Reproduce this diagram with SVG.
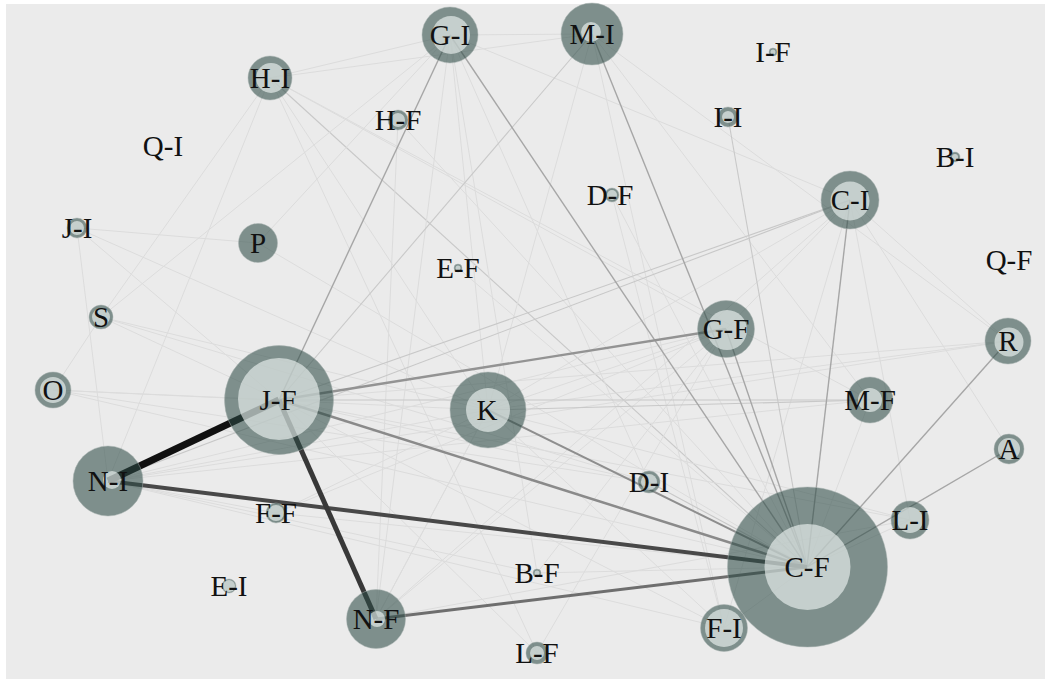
<svg xmlns="http://www.w3.org/2000/svg" width="1045" height="679" viewBox="0 0 1045 679">
<style>
.bg{fill:#ebebeb}
.e0{stroke:#dcdcdc;stroke-width:1;fill:none}
.e1{stroke:#c8c8c8;stroke-width:1.1;fill:none}
.e2{stroke:#a6a6a6;stroke-width:1.4;fill:none}
.o{fill:rgb(44,74,69);fill-opacity:0.57;stroke:#a7b1af;stroke-width:0.8;stroke-opacity:0.6}
.i{fill:rgb(245,250,248);fill-opacity:0.6}
text{font-family:"Liberation Serif","Times New Roman",serif;font-size:29px;fill:#111;text-anchor:middle}
</style>
<rect x="0" y="0" width="1045" height="679" fill="#ffffff"/>
<rect class="bg" x="6" y="4" width="1039" height="675"/>
<g id="connectors">
<line class="e0" x1="270" y1="78" x2="450" y2="35"/>
<line class="e0" x1="270" y1="78" x2="592" y2="34"/>
<line class="e0" x1="450" y1="35" x2="592" y2="34"/>
<line class="e0" x1="270" y1="78" x2="101" y2="317"/>
<line class="e0" x1="270" y1="78" x2="108" y2="481"/>
<line class="e0" x1="270" y1="78" x2="726" y2="329"/>
<line class="e0" x1="270" y1="78" x2="537" y2="653"/>
<line class="e0" x1="270" y1="78" x2="488" y2="410"/>
<line class="e0" x1="270" y1="78" x2="870" y2="400"/>
<line class="e1" x1="270" y1="78" x2="807" y2="567"/>
<line class="e0" x1="450" y1="35" x2="376" y2="619"/>
<line class="e0" x1="450" y1="35" x2="488" y2="410"/>
<line class="e0" x1="450" y1="35" x2="537" y2="573"/>
<line class="e0" x1="450" y1="35" x2="649" y2="482"/>
<line class="e0" x1="450" y1="35" x2="850" y2="200"/>
<line class="e0" x1="450" y1="35" x2="101" y2="317"/>
<line class="e0" x1="592" y1="34" x2="488" y2="410"/>
<line class="e0" x1="592" y1="34" x2="870" y2="400"/>
<line class="e0" x1="592" y1="34" x2="724" y2="628"/>
<line class="e0" x1="592" y1="34" x2="1008" y2="341"/>
<line class="e0" x1="77" y1="228" x2="108" y2="481"/>
<line class="e0" x1="77" y1="228" x2="279" y2="400"/>
<line class="e0" x1="77" y1="228" x2="488" y2="410"/>
<line class="e0" x1="101" y1="317" x2="53" y2="390"/>
<line class="e0" x1="101" y1="317" x2="488" y2="410"/>
<line class="e0" x1="101" y1="317" x2="649" y2="482"/>
<line class="e0" x1="101" y1="317" x2="279" y2="400"/>
<line class="e0" x1="53" y1="390" x2="488" y2="410"/>
<line class="e0" x1="53" y1="390" x2="649" y2="482"/>
<line class="e0" x1="53" y1="390" x2="807" y2="567"/>
<line class="e0" x1="53" y1="390" x2="279" y2="400"/>
<line class="e0" x1="258" y1="243" x2="450" y2="35"/>
<line class="e0" x1="258" y1="243" x2="807" y2="567"/>
<line class="e0" x1="258" y1="243" x2="77" y2="228"/>
<line class="e0" x1="108" y1="481" x2="726" y2="329"/>
<line class="e0" x1="108" y1="481" x2="488" y2="410"/>
<line class="e0" x1="108" y1="481" x2="276" y2="513"/>
<line class="e0" x1="108" y1="481" x2="537" y2="573"/>
<line class="e0" x1="108" y1="481" x2="724" y2="628"/>
<line class="e0" x1="108" y1="481" x2="870" y2="400"/>
<line class="e0" x1="108" y1="481" x2="1008" y2="341"/>
<line class="e0" x1="279" y1="400" x2="649" y2="482"/>
<line class="e0" x1="279" y1="400" x2="724" y2="628"/>
<line class="e0" x1="279" y1="400" x2="910" y2="520"/>
<line class="e0" x1="279" y1="400" x2="1008" y2="341"/>
<line class="e0" x1="279" y1="400" x2="537" y2="653"/>
<line class="e0" x1="488" y1="410" x2="726" y2="329"/>
<line class="e0" x1="488" y1="410" x2="850" y2="200"/>
<line class="e0" x1="488" y1="410" x2="724" y2="628"/>
<line class="e0" x1="488" y1="410" x2="1008" y2="341"/>
<line class="e0" x1="488" y1="410" x2="910" y2="520"/>
<line class="e0" x1="488" y1="410" x2="376" y2="619"/>
<line class="e0" x1="458" y1="268" x2="807" y2="567"/>
<line class="e0" x1="398" y1="120" x2="807" y2="567"/>
<line class="e0" x1="398" y1="120" x2="376" y2="619"/>
<line class="e0" x1="612" y1="195" x2="807" y2="567"/>
<line class="e0" x1="612" y1="195" x2="724" y2="628"/>
<line class="e0" x1="850" y1="200" x2="726" y2="329"/>
<line class="e0" x1="850" y1="200" x2="376" y2="619"/>
<line class="e0" x1="850" y1="200" x2="724" y2="628"/>
<line class="e0" x1="850" y1="200" x2="910" y2="520"/>
<line class="e0" x1="850" y1="200" x2="1009" y2="449"/>
<line class="e0" x1="850" y1="200" x2="1008" y2="341"/>
<line class="e0" x1="807" y1="567" x2="910" y2="520"/>
<line class="e0" x1="807" y1="567" x2="870" y2="400"/>
<line class="e0" x1="807" y1="567" x2="724" y2="628"/>
<line class="e0" x1="807" y1="567" x2="276" y2="513"/>
<line class="e0" x1="807" y1="567" x2="537" y2="573"/>
<line class="e0" x1="376" y1="619" x2="910" y2="520"/>
<line class="e0" x1="376" y1="619" x2="726" y2="329"/>
<line class="e0" x1="376" y1="619" x2="488" y2="410"/>
<line class="e0" x1="276" y1="513" x2="488" y2="410"/>
<line class="e0" x1="276" y1="513" x2="726" y2="329"/>
<line class="e0" x1="537" y1="573" x2="726" y2="329"/>
<line class="e0" x1="537" y1="653" x2="726" y2="329"/>
<line class="e1" x1="592" y1="34" x2="279" y2="400"/>
<line class="e1" x1="850" y1="200" x2="279" y2="400"/>
<line class="e1" x1="850" y1="200" x2="108" y2="481"/>
<line class="e1" x1="279" y1="400" x2="870" y2="400"/>
<line class="e1" x1="488" y1="410" x2="870" y2="400"/>
<line class="e1" x1="649" y1="482" x2="807" y2="567"/>
<line class="e1" x1="728" y1="117" x2="807" y2="567"/>
<line class="e2" x1="450" y1="35" x2="279" y2="400"/>
<line class="e2" x1="450" y1="35" x2="807" y2="567"/>
<line class="e2" x1="592" y1="34" x2="807" y2="567"/>
<line class="e2" x1="850" y1="200" x2="807" y2="567"/>
<line class="e2" x1="726" y1="329" x2="807" y2="567"/>
<line class="e2" x1="1008" y1="341" x2="807" y2="567"/>
<line class="e2" x1="1009" y1="449" x2="807" y2="567"/>
<line x1="488" y1="410" x2="807" y2="567" stroke="#8e8e8e" stroke-width="2"/>
<line x1="279" y1="400" x2="726" y2="329" stroke="#939393" stroke-width="2.4"/>
<line x1="279" y1="400" x2="807" y2="567" stroke="#8a8a8a" stroke-width="2.5"/>
<line x1="376" y1="619" x2="807" y2="567" stroke="#6e6e6e" stroke-width="3"/>
<line x1="108" y1="481" x2="807" y2="567" stroke="#484848" stroke-width="4"/>
<line x1="279" y1="400" x2="376" y2="619" stroke="#383838" stroke-width="5"/>
<line x1="108" y1="481" x2="279" y2="400" stroke="#111111" stroke-width="7"/>
</g>
<g id="node-QI"><text x="163" y="156">Q-I</text></g>
<g id="node-QF"><text x="1009" y="270">Q-F</text></g>
<g id="node-IF"><circle class="o" cx="773" cy="52" r="4"/><circle class="i" cx="773" cy="52" r="2.5"/><text x="773" y="62">I-F</text></g>
<g id="node-BI"><circle class="o" cx="955" cy="157" r="5"/><circle class="i" cx="955" cy="157" r="3"/><text x="955" y="167">B-I</text></g>
<g id="node-EF"><circle class="o" cx="458" cy="268" r="4"/><circle class="i" cx="458" cy="268" r="2.5"/><text x="458" y="278">E-F</text></g>
<g id="node-BF"><circle class="o" cx="537" cy="573" r="4"/><circle class="i" cx="537" cy="573" r="2.5"/><text x="537" y="583">B-F</text></g>
<g id="node-DF"><circle class="o" cx="612" cy="195" r="7"/><circle class="i" cx="612" cy="195" r="5"/><text x="610" y="205">D-F</text></g>
<g id="node-EI"><circle class="o" cx="229" cy="586" r="7"/><circle class="i" cx="229" cy="586" r="6"/><text x="229" y="596">E-I</text></g>
<g id="node-HF"><circle class="o" cx="398" cy="120" r="10"/><circle class="i" cx="398" cy="120" r="7"/><text x="398" y="130">H-F</text></g>
<g id="node-II"><circle class="o" cx="728" cy="117" r="10"/><circle class="i" cx="728" cy="117" r="6"/><text x="728" y="127">I-I</text></g>
<g id="node-JI"><circle class="o" cx="77" cy="228" r="10"/><circle class="i" cx="77" cy="228" r="7"/><text x="77" y="238">J-I</text></g>
<g id="node-FF"><circle class="o" cx="276" cy="513" r="10"/><circle class="i" cx="276" cy="513" r="8"/><text x="276" y="523">F-F</text></g>
<g id="node-DI"><circle class="o" cx="649" cy="482" r="11"/><circle class="i" cx="649" cy="482" r="8"/><text x="649" y="492">D-I</text></g>
<g id="node-LF"><circle class="o" cx="537" cy="653" r="11"/><circle class="i" cx="537" cy="653" r="7"/><text x="537" y="663">L-F</text></g>
<g id="node-S"><circle class="o" cx="101" cy="317" r="12"/><circle class="i" cx="101" cy="317" r="9"/><text x="101" y="327">S</text></g>
<g id="node-O"><circle class="o" cx="53" cy="390" r="18"/><circle class="i" cx="53" cy="390" r="13"/><text x="53" y="400">O</text></g>
<g id="node-P"><circle class="o" cx="258" cy="243" r="19.5"/><text x="258" y="253">P</text></g>
<g id="node-A"><circle class="o" cx="1009" cy="449" r="15"/><circle class="i" cx="1009" cy="449" r="11"/><text x="1009" y="459">A</text></g>
<g id="node-LI"><circle class="o" cx="910" cy="520" r="19"/><circle class="i" cx="910" cy="520" r="13"/><text x="910" y="530">L-I</text></g>
<g id="node-HI"><circle class="o" cx="270" cy="78" r="22"/><circle class="i" cx="271" cy="78" r="15"/><text x="270" y="88">H-I</text></g>
<g id="node-MF"><circle class="o" cx="870" cy="400" r="23"/><circle class="i" cx="870" cy="400" r="12"/><text x="870" y="410">M-F</text></g>
<g id="node-R"><circle class="o" cx="1008" cy="341" r="23"/><circle class="i" cx="1009" cy="342" r="14.5"/><text x="1008" y="351">R</text></g>
<g id="node-GI"><circle class="o" cx="450" cy="35" r="28"/><circle class="i" cx="451" cy="35" r="19"/><text x="450" y="45">G-I</text></g>
<g id="node-MI"><circle class="o" cx="592" cy="34" r="31"/><circle class="i" cx="591" cy="32" r="10"/><text x="592" y="44">M-I</text></g>
<g id="node-GF"><circle class="o" cx="726" cy="329" r="28.5"/><circle class="i" cx="727" cy="330" r="20"/><text x="726" y="339">G-F</text></g>
<g id="node-CI"><circle class="o" cx="850" cy="200" r="29"/><circle class="i" cx="850" cy="201" r="19.5"/><text x="850" y="210">C-I</text></g>
<g id="node-NF"><circle class="o" cx="376" cy="619" r="29.5"/><circle class="i" cx="377" cy="619" r="8"/><text x="376" y="629">N-F</text></g>
<g id="node-NI"><circle class="o" cx="108" cy="481" r="35"/><circle class="i" cx="112" cy="480" r="9"/><text x="108" y="491">N-I</text></g>
<g id="node-K"><circle class="o" cx="488" cy="410" r="38"/><circle class="i" cx="488" cy="410" r="22"/><text x="487" y="420">K</text></g>
<g id="node-JF"><circle class="o" cx="279" cy="400" r="54.5"/><circle class="i" cx="279" cy="399" r="41"/><text x="278" y="410">J-F</text></g>
<g id="node-CF"><circle class="o" cx="807.5" cy="567" r="80"/><circle class="i" cx="807.5" cy="567" r="43"/><text x="807" y="577">C-F</text></g>
<g id="node-FI"><circle class="o" cx="724" cy="628" r="23.5"/><circle class="i" cx="724" cy="628" r="19"/><text x="724" y="638">F-I</text></g>
</svg>
